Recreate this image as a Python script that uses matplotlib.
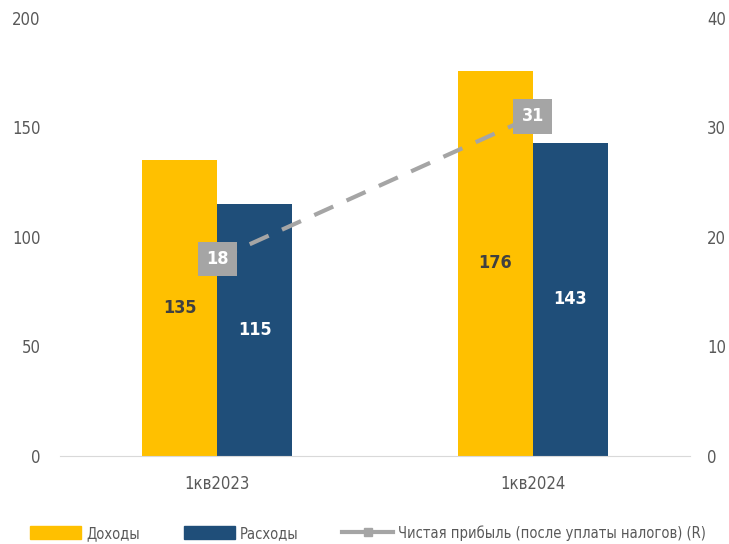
import numpy as np
import matplotlib.pyplot as plt
from matplotlib.lines import Line2D
from matplotlib.patches import Patch

plt.rcParams['font.family'] = ['DejaVu Sans']
plt.rcParams['font.stretch'] = 'condensed'

categories = ['1кв2023', '1кв2024']
dohody = [135, 176]
rashody = [115, 143]
pribyl = [18, 31]

c_yellow = '#FFC000'
c_blue = '#1F4E79'
c_gray = '#A5A5A5'
c_text = '#595959'

fig = plt.figure(figsize=(7.29, 5.44), dpi=100)
ax = fig.add_axes([0.082, 0.162, 0.865, 0.805])
ax2 = ax.twinx()

x = np.arange(len(categories))
w = 0.238
b1 = ax.bar(x - w / 2, dohody, w, color=c_yellow, zorder=2)
b2 = ax.bar(x + w / 2, rashody, w, color=c_blue, zorder=2)

for rect, v in zip(b1, dohody):
    ax.text(rect.get_x() + rect.get_width() / 2, v / 2, str(v), ha='center', va='center',
            fontsize=13, fontweight='bold', color='#404040', zorder=3)
for rect, v in zip(b2, rashody):
    ax.text(rect.get_x() + rect.get_width() / 2, v / 2, str(v), ha='center', va='center',
            fontsize=13, fontweight='bold', color='white', zorder=3)

ax.set_xlim(-0.5, 1.5)
ax.set_ylim(0, 200)
ax.set_yticks([0, 50, 100, 150, 200])
ax.set_xticks(x)
ax.set_xticklabels(categories)

ax2.set_ylim(0, 40)
ax2.set_yticks([0, 10, 20, 30, 40])
ax2.plot(x, pribyl, color=c_gray, lw=3, linestyle=(0, (5, 3.5)), marker='s', markersize=6,
         zorder=4)
for xi, v in zip(x, pribyl):
    ax2.text(xi, v, str(v), ha='center', va='center', fontsize=13, fontweight='bold',
             color='white', zorder=5,
             bbox=dict(boxstyle='square,pad=0.45', fc=c_gray, ec='none'))

for a in (ax, ax2):
    for s in a.spines.values():
        s.set_visible(False)
    a.tick_params(length=0, labelsize=12, colors=c_text)
ax.spines['bottom'].set_visible(True)
ax.spines['bottom'].set_color('#D9D9D9')
ax.tick_params(axis='y', pad=14)
ax.tick_params(axis='x', pad=14)
ax2.tick_params(axis='y', pad=12)

handles = [Patch(color=c_yellow, label='Доходы'),
           Patch(color=c_blue, label='Расходы'),
           Line2D([], [], color=c_gray, lw=3, marker='s', markersize=6,
                  label='Чистая прибыль (после уплаты налогов) (R)')]
fig.legend(handles=handles, loc='center left', bbox_to_anchor=(30 / 729, 0.02), ncol=3,
           frameon=False, fontsize=10.5, handlelength=3.5, handleheight=1.0,
           columnspacing=3.0, handletextpad=0.35, borderpad=0, borderaxespad=0,
           labelcolor=c_text)

fig.savefig('out.png', dpi=100)
